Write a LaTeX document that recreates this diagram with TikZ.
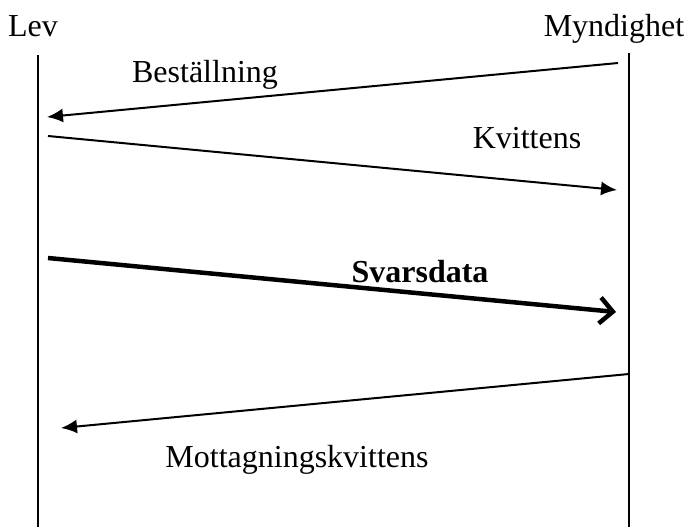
\documentclass[tikz,border=0pt]{standalone}
\usepackage{fontspec}
\setmainfont{Liberation Serif}
\usetikzlibrary{arrows.meta}

\begin{document}
\begin{tikzpicture}[x=1pt,y=-1pt,->,>={Latex[length=16pt,width=14pt]},line width=2pt]
    \tikzstyle{actor}=[inner sep=0pt, anchor=base, font=\fontsize{32}{38}\selectfont, text=black]
    \tikzstyle{label}=[inner sep=0pt, anchor=base, font=\fontsize{32}{38}\selectfont, text=black]
    \tikzstyle{life}=[-, line width=1.5pt]
    \tikzstyle{data}=[line width=4.5pt, -{Straight Barb[length=13pt,width=26pt]}]
    \useasboundingbox (0,0) rectangle (690,527);

    \node[actor] (lev)  at (33,37)  {Lev};
    \node[actor] (myn)  at (614,37) {Myndighet};
    \coordinate (levtop) at (38,55);   \coordinate (levbot) at (38,527);
    \coordinate (myntop) at (629,53);  \coordinate (mynbot) at (629,527);

    \coordinate (b1) at (618,63);  \coordinate (b2) at (47,117);
    \coordinate (k1) at (48,136);  \coordinate (k2) at (617,190);
    \coordinate (s1) at (48,258);  \coordinate (s2) at (616,312);
    \coordinate (m1) at (629,374); \coordinate (m2) at (61,428);

    \node[label] (best) at (205,82)  {Beställning};
    \node[label] (kvit) at (527,148) {Kvittens};
    \node[label] (svar) at (420,282) {\bfseries Svarsdata};
    \node[label] (mott) at (297,467) {Mottagningskvittens};

    \path
     (levtop) edge[life] (levbot)
     (myntop) edge[life] (mynbot)
     (b1) edge[] (b2)
     (k1) edge[] (k2)
     (s1) edge[data] (s2)
     (m1) edge[] (m2)
     ;
\end{tikzpicture}
\end{document}
